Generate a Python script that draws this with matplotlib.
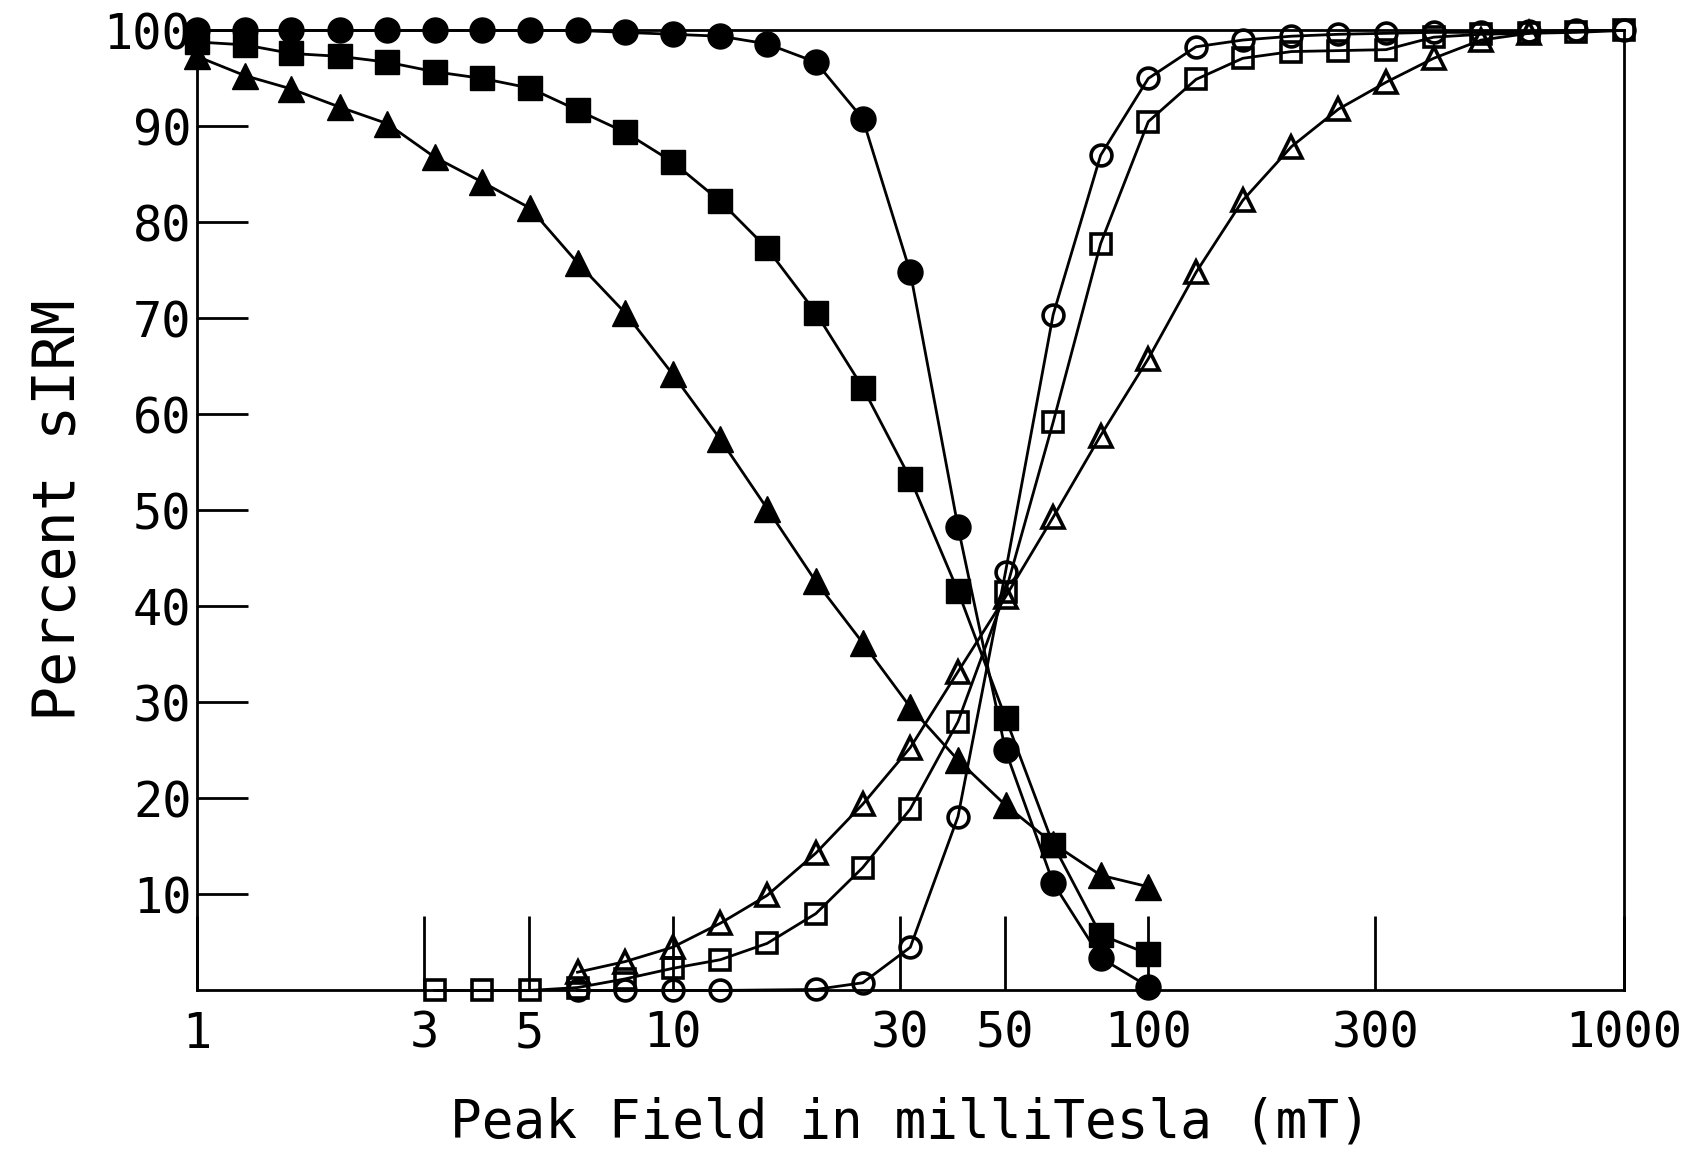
import matplotlib
matplotlib.use('Agg')
import matplotlib.pyplot as plt
from matplotlib.ticker import NullLocator

# peak field steps (mT), 0.1 decade apart
fields = [1, 1.26, 1.58, 2, 2.51, 3.16, 3.98, 5.01, 6.31, 7.94, 10, 12.6, 15.8, 20, 25.1,
          31.6, 39.8, 50.1, 63.1, 79.4, 100, 126, 158, 200, 251, 316, 398, 501, 631, 794, 1000]

# AF demagnetisation curves (filled symbols), 1 - 100 mT
af_circle = [100, 100, 100, 100, 100, 100, 100, 100, 100, 99.8, 99.6, 99.4, 98.6, 96.7, 90.8,
             74.8, 48.3, 25.0, 11.2, 3.4, 0.4]
af_square = [98.8, 98.5, 97.6, 97.3, 96.7, 95.7, 95.0, 94.0, 91.7, 89.4, 86.3, 82.2, 77.3, 70.6,
             62.8, 53.3, 41.6, 28.4, 15.2, 5.8, 3.8]
af_triangle = [97.3, 95.3, 93.9, 92.0, 90.3, 86.8, 84.2, 81.5, 75.8, 70.6, 64.2, 57.4, 50.2, 42.6,
               36.2, 29.5, 24.0, 19.3, 15.3, 12.0, 10.8]

# IRM acquisition curves (open symbols)
irm_circle_x = [6.31, 7.94, 10, 12.6, 20, 25.1, 31.6, 39.8, 50.1, 63.1, 79.4, 100, 126, 158, 200,
                251, 316, 398, 501, 631, 794, 1000]
irm_circle = [0, 0, 0, 0, 0.1, 0.8, 4.5, 18.1, 43.6, 70.4, 87.0, 95.0, 98.3, 99.0, 99.4, 99.6,
              99.7, 99.8, 99.8, 99.9, 100, 100]
irm_square_x = fields[5:]
irm_square = [0, 0, 0, 0.3, 1.2, 2.3, 3.2, 4.9, 8.0, 12.8, 18.9, 28.0, 41.5, 59.2, 77.8, 90.5,
              94.9, 97.1, 97.8, 97.9, 98.0, 99.3, 99.6, 99.7, 99.8, 100]
irm_triangle_x = fields[8:29]
irm_triangle = [1.9, 3.0, 4.5, 7.0, 9.9, 14.3, 19.4, 25.3, 33.2, 41.0, 49.3, 57.8, 65.8, 74.8,
                82.3, 87.9, 91.8, 94.6, 97.1, 99.0, 99.7]

xtick_vals = [1, 3, 5, 10, 30, 50, 100, 300, 1000]
xtick_labels = ['1', '3', '5', '10', '30', '50', '100', '300', '1000']
ytick_vals = [10, 20, 30, 40, 50, 60, 70, 80, 90, 100]

plt.rcParams['font.family'] = ['DejaVu Sans Mono', 'DejaVu Sans']

fig = plt.figure(figsize=(17.01, 11.49), dpi=100)
ax = fig.add_axes([0.1158, 0.138, 0.8389, 0.8355])

lw = 2.0
ax.plot(fields[:21], af_circle, color='black', lw=lw, marker='o', ms=18, clip_on=False)
ax.plot(fields[:21], af_square, color='black', lw=lw, marker='s', ms=17, clip_on=False)
ax.plot(fields[:21], af_triangle, color='black', lw=lw, marker='^', ms=19, clip_on=False)

ax.plot(irm_circle_x, irm_circle, color='black', lw=lw, marker='o', ms=15,
        mfc='none', mec='black', mew=2.6, clip_on=False)
ax.plot(irm_square_x, irm_square, color='black', lw=lw, marker='s', ms=14,
        mfc='none', mec='black', mew=2.6, clip_on=False)
ax.plot(irm_triangle_x, irm_triangle, color='black', lw=lw, marker='^', ms=16,
        mfc='none', mec='black', mew=2.6, clip_on=False)

ax.set_xscale('log')
ax.set_xlim(1, 1000)
ax.set_ylim(0, 100)
ax.xaxis.set_minor_locator(NullLocator())
ax.set_xticks(xtick_vals)
ax.set_xticklabels(xtick_labels)
ax.set_yticks(ytick_vals)
ax.set_yticklabels([str(v) for v in ytick_vals])

ax.tick_params(axis='x', direction='in', length=53, width=2, pad=14, labelsize=35)
ax.tick_params(axis='y', direction='in', length=37, width=2, pad=4, labelsize=35)
for s in ax.spines.values():
    s.set_linewidth(2)

ax.set_xlabel('Peak Field in milliTesla (mT)', fontsize=38, labelpad=28)
ax.set_ylabel('Percent sIRM', fontsize=42, labelpad=12)

fig.savefig('out.png', dpi=100)
